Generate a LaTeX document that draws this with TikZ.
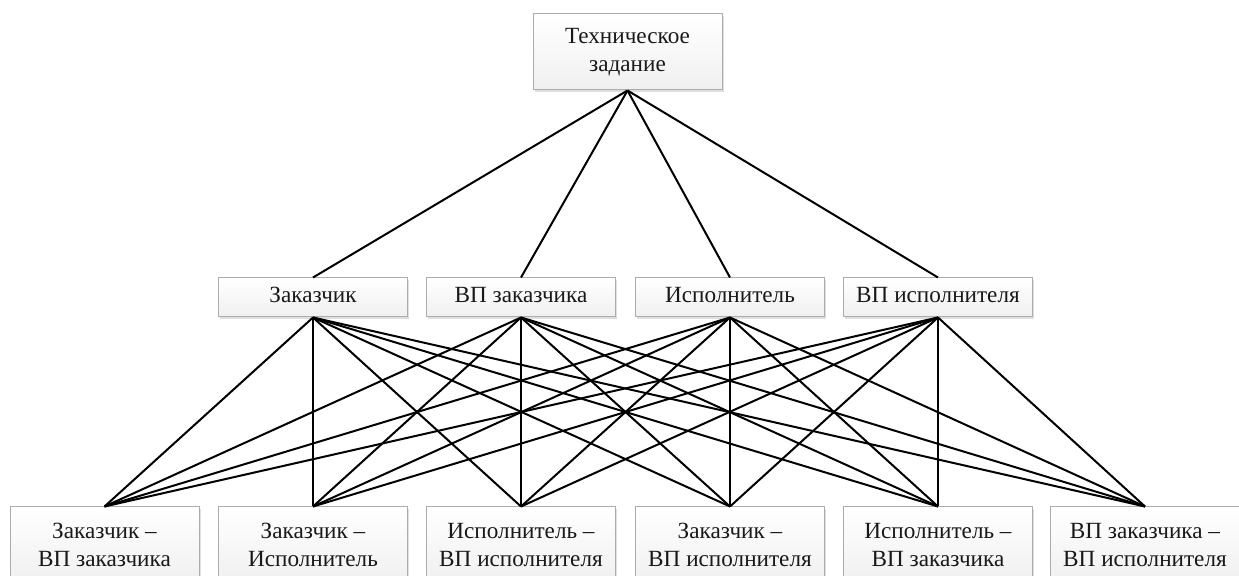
\documentclass[tikz,border=0pt]{standalone}
\usepackage{fontspec}
\setmainfont{Liberation Serif}
\usetikzlibrary{shadows}

\begin{document}
\begin{tikzpicture}[
                    x=0.5pt,
                    y=-0.5pt,
                    box/.style={
                        draw=gray!65,
                        line width=0.5pt,
                        top color=white,
                        bottom color=gray!12,
                        drop shadow={shadow xshift=0.8pt, shadow yshift=-0.8pt, opacity=0.25},
                        minimum width=94.5pt,
                        inner sep=0pt,
                        align=center,
                        text=black!90,
                        font=\fontsize{11.6}{14.2}\selectfont
                    },
                    mid/.style={box, minimum height=19.5pt, text height=8pt, text depth=2.6pt},
                    low/.style={box, minimum height=38pt}
                ]
                \useasboundingbox (0,0) rectangle (1239,576);

                % top
                \node[low] (T) at (627.5,52) {Техническое\\задание};

                % middle row
                \node[mid] (M1) at (313,297.5) {Заказчик};
                \node[mid] (M2) at (521,297.5) {ВП заказчика};
                \node[mid] (M3) at (730,297.5) {Исполнитель};
                \node[mid] (M4) at (938,297.5) {ВП исполнителя};

                % bottom row
                \node[low] (B1) at (104.5,545) {Заказчик –\\ВП заказчика};
                \node[low] (B2) at (313,545) {Заказчик –\\Исполнитель};
                \node[low] (B3) at (521,545) {Исполнитель –\\ВП исполнителя};
                \node[low] (B4) at (730,545) {Заказчик –\\ВП исполнителя};
                \node[low] (B5) at (938,545) {Исполнитель –\\ВП заказчика};
                \node[low] (B6) at (1145,545) {ВП заказчика –\\ВП исполнителя};

                \path[line width=1pt]
                (T.south) edge (M1.north) edge (M2.north) edge (M3.north) edge (M4.north)
                (M1.south) edge (B1.north) edge (B2.north) edge (B3.north)
                           edge (B4.north) edge (B5.north) edge (B6.north)
                (M2.south) edge (B1.north) edge (B2.north) edge (B3.north)
                           edge (B4.north) edge (B5.north) edge (B6.north)
                (M3.south) edge (B1.north) edge (B2.north) edge (B3.north)
                           edge (B4.north) edge (B5.north) edge (B6.north)
                (M4.south) edge (B1.north) edge (B2.north) edge (B3.north)
                           edge (B4.north) edge (B5.north) edge (B6.north)
                ;
            \end{tikzpicture}
\end{document}
